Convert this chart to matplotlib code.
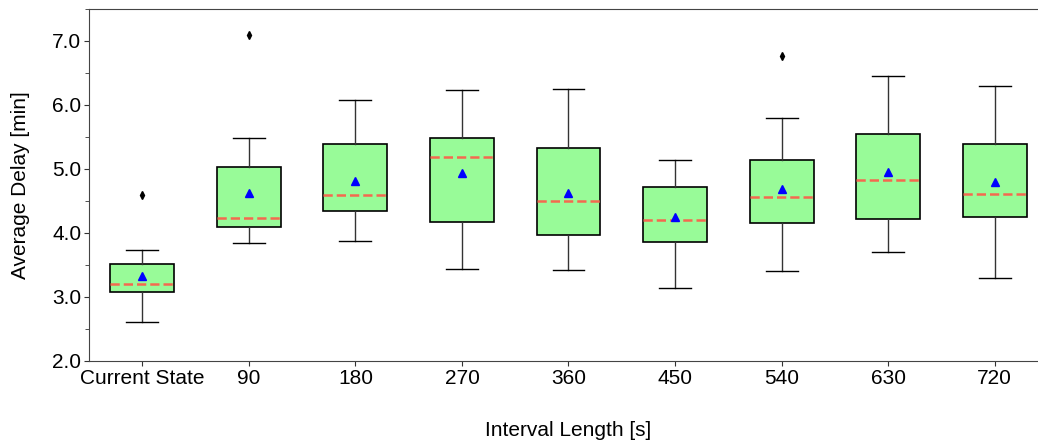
import matplotlib
matplotlib.use("Agg")
import matplotlib.pyplot as plt
from matplotlib.ticker import MultipleLocator, FormatStrFormatter

plt.rcParams['font.family'] = ['Liberation Sans', 'DejaVu Sans']

labels = ['Current State', '90', '180', '270', '360', '450', '540', '630', '720']
whislo = [2.61, 3.84, 3.875, 3.44, 3.42, 3.14, 3.41, 3.70, 3.29]
q1     = [3.08, 4.09, 4.34, 4.17, 3.97, 3.86, 4.15, 4.22, 4.25]
med    = [3.21, 4.24, 4.59, 5.19, 4.50, 4.20, 4.56, 4.83, 4.61]
q3     = [3.52, 5.03, 5.39, 5.48, 5.33, 4.72, 5.14, 5.55, 5.39]
whishi = [3.73, 5.49, 6.08, 6.23, 6.25, 5.14, 5.79, 6.45, 6.29]
means  = [3.33, 4.63, 4.81, 4.94, 4.625, 4.25, 4.68, 4.95, 4.79]
fliers = [[4.59], [7.10], [], [], [], [], [6.77], [], []]

stats = []
for i in range(len(labels)):
    stats.append(dict(label=labels[i], whislo=whislo[i], q1=q1[i], med=med[i],
                      q3=q3[i], whishi=whishi[i], mean=means[i], fliers=fliers[i]))

fig = plt.figure(figsize=(10.38, 4.45), dpi=100)
ax = fig.add_axes([89/1038, 84/445, 959/1038, 352/445])

ax.bxp(stats, widths=0.6, showmeans=True, patch_artist=True,
       boxprops=dict(facecolor='#98fb98', edgecolor='black', linewidth=1.2),
       medianprops=dict(color='#f4694f', linestyle='--', linewidth=1.8),
       meanprops=dict(marker='^', markerfacecolor='blue', markeredgecolor='blue', markersize=6),
       flierprops=dict(marker='d', markerfacecolor='black', markeredgecolor='black', markersize=4),
       whiskerprops=dict(color='#333333', linewidth=1),
       capprops=dict(color='black', linewidth=1))

ax.set_xlim(0.5, 9.5)
ax.set_ylim(2.0, 7.5)
ax.yaxis.set_major_locator(MultipleLocator(1.0))
ax.yaxis.set_minor_locator(MultipleLocator(0.5))
ax.yaxis.set_major_formatter(FormatStrFormatter('%.1f'))
ax.tick_params(axis='both', labelsize=15, direction='out', color='#333333', pad=2)
ax.tick_params(axis='y', which='minor', length=3, color='#333333')

for s in ['left', 'top', 'bottom']:
    ax.spines[s].set_color('#444444')
ax.spines['right'].set_visible(False)

ax.set_ylabel('Average Delay [min]', fontsize=15, labelpad=16)
ax.set_xlabel('Interval Length [s]', fontsize=15, labelpad=24)

plt.savefig('out.png', dpi=100)
